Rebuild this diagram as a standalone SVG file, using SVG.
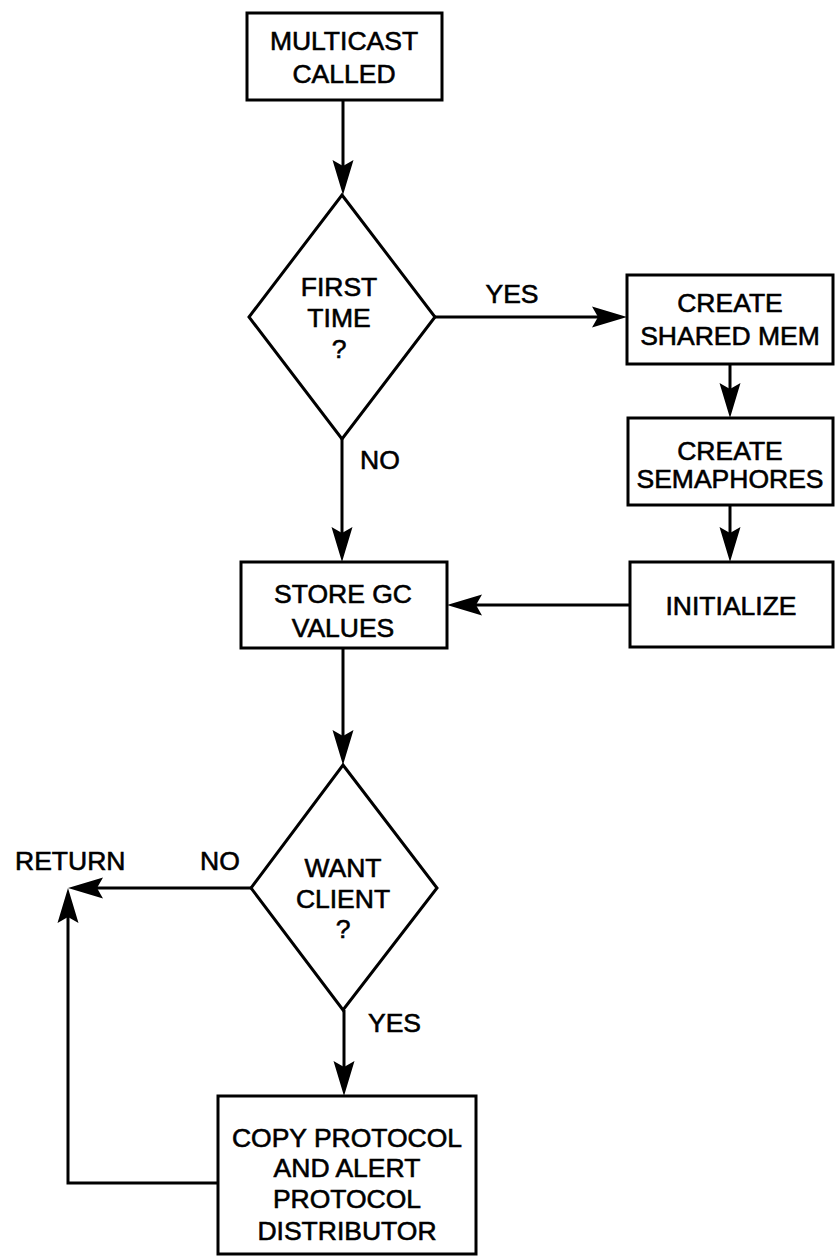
<svg xmlns="http://www.w3.org/2000/svg" width="839" height="1257" viewBox="0 0 839 1257">
<style>
.n{fill:#fff;stroke:#000;stroke-width:3}
.c{fill:none;stroke:#000;stroke-width:3}
text{font-family:"Liberation Sans",Arial,sans-serif;font-size:26.5px;fill:#000;stroke:#000;stroke-width:0.6;text-anchor:middle}
.l{text-anchor:start}
</style>
<defs>
<marker id="ah" markerWidth="36" markerHeight="24" refX="27" refY="12" orient="auto" markerUnits="userSpaceOnUse"><path d="M0,1.5 L35,12 L0,22.5 L6,12 Z" fill="#000"/></marker>
</defs>
<rect width="839" height="1257" fill="#fff"/>
<g id="connectors">
<line class="c" x1="343" y1="100" x2="343" y2="187" marker-end="url(#ah)"/>
<line class="c" x1="435" y1="317" x2="619" y2="317" marker-end="url(#ah)"/>
<line class="c" x1="730" y1="364" x2="730" y2="410" marker-end="url(#ah)"/>
<line class="c" x1="730" y1="505" x2="730" y2="554" marker-end="url(#ah)"/>
<line class="c" x1="630" y1="605" x2="455" y2="605" marker-end="url(#ah)"/>
<line class="c" x1="342" y1="439" x2="342" y2="554" marker-end="url(#ah)"/>
<line class="c" x1="343" y1="648" x2="343" y2="757" marker-end="url(#ah)"/>
<line class="c" x1="251" y1="888" x2="76" y2="888" marker-end="url(#ah)"/>
<polyline class="c" points="218,1183 68,1183 68,896" marker-end="url(#ah)"/>
<line class="c" x1="344" y1="1010" x2="344" y2="1088" marker-end="url(#ah)"/>
<text x="512" y="303">YES</text>
<text class="l" x="360" y="469">NO</text>
<text class="l" x="200" y="870">NO</text>
<text class="l" x="368" y="1032">YES</text>
<text class="l" x="15" y="870">RETURN</text>
</g>
<g id="multicast-called">
<rect class="n" x="247" y="13" width="195" height="87"/>
<text x="344" y="50">MULTICAST</text>
<text x="344" y="83">CALLED</text>
</g>
<g id="first-time">
<polygon class="n" points="342,195 435,317 342,439 249,317"/>
<text x="339" y="296">FIRST</text>
<text x="339" y="327">TIME</text>
<text x="339" y="358">?</text>
</g>
<g id="create-shared-mem">
<rect class="n" x="627" y="275" width="206" height="89"/>
<text x="730" y="312">CREATE</text>
<text x="730" y="345">SHARED MEM</text>
</g>
<g id="create-semaphores">
<rect class="n" x="628" y="418" width="205" height="87"/>
<text x="730" y="460">CREATE</text>
<text x="730" y="488">SEMAPHORES</text>
</g>
<g id="initialize">
<rect class="n" x="630" y="562" width="203" height="85"/>
<text x="731" y="615">INITIALIZE</text>
</g>
<g id="store-gc-values">
<rect class="n" x="241" y="562" width="206" height="86"/>
<text x="343" y="603">STORE GC</text>
<text x="343" y="637">VALUES</text>
</g>
<g id="want-client">
<polygon class="n" points="343,765 437,888 343,1010 251,888"/>
<text x="343" y="877">WANT</text>
<text x="343" y="908">CLIENT</text>
<text x="343" y="938">?</text>
</g>
<g id="copy-protocol">
<rect class="n" x="218" y="1096" width="258" height="158"/>
<text x="347" y="1147">COPY PROTOCOL</text>
<text x="347" y="1177">AND ALERT</text>
<text x="347" y="1208">PROTOCOL</text>
<text x="347" y="1240">DISTRIBUTOR</text>
</g>
</svg>
